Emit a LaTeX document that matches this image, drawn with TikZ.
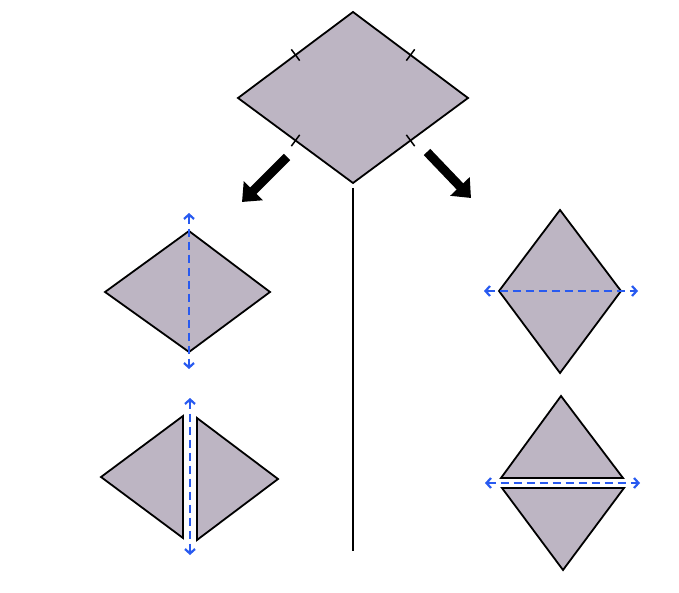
\documentclass[tikz,border=0pt]{standalone}
\usetikzlibrary{arrows.meta,calc}

\definecolor{kite}{RGB}{189,181,195}
\definecolor{foldblue}{RGB}{40,90,240}

\begin{document}
\begin{tikzpicture}
  [
  x=1pt, y=-1pt, line join=miter,
  piece/.style={draw=black, fill=kite, line width=1.8pt},
  tickmark/.style={draw=black, line width=1.5pt},
  fold/.style={draw=foldblue, dashed, dash pattern=on 8pt off 5pt, line width=2.2pt, {Straight Barb[length=4.5pt,width=10pt]}-{Straight Barb[length=4.5pt,width=10pt]}},
  move/.style={line width=9pt, -{Triangle[length=16pt,width=26pt]}},
  split/.style={draw=black, line width=1.8pt}
  ]

\useasboundingbox (0,0) rectangle (679,593);

% big rhombus
\coordinate (t) at (353,12);
\coordinate (l) at (238,98);
\coordinate (r) at (468,98);
\coordinate (b) at (353,183);
\draw[piece] (t) -- (r) -- (b) -- (l) -- cycle;
\foreach \a/\c in {t/l, t/r, b/l, b/r} {
  \draw[tickmark] ($(\a)!0.5!(\c)!7pt!90:(\c)$) -- ($(\a)!0.5!(\c)!7pt!-90:(\c)$);
}

% arrows
\coordinate (la0) at (287,157);
\coordinate (la1) at (242,202);
\coordinate (ra0) at (427,152);
\coordinate (ra1) at (471,198);
\draw[move] (la0) -- (la1);
\draw[move] (ra0) -- (ra1);

% divider
\coordinate (d0) at (353,188);
\coordinate (d1) at (353,551);
\draw[split] (d0) -- (d1);

% left: fold along vertical
\coordinate (lt) at (189,231);
\coordinate (ll) at (105,292);
\coordinate (lr) at (270,292);
\coordinate (lb) at (189,352);
\draw[piece] (lt) -- (lr) -- (lb) -- (ll) -- cycle;
\coordinate (lf0) at (189,213);
\coordinate (lf1) at (189,369);
\draw[fold] (lf0) -- (lf1);

% left: two halves
\coordinate (p1) at (101,477);
\coordinate (p2) at (183,416);
\coordinate (p3) at (183,538);
\draw[piece] (p1) -- (p2) -- (p3) -- cycle;
\coordinate (q1) at (197,418);
\coordinate (q2) at (278,479);
\coordinate (q3) at (197,540);
\draw[piece] (q1) -- (q2) -- (q3) -- cycle;
\coordinate (sf0) at (190,398);
\coordinate (sf1) at (190,555);
\draw[fold] (sf0) -- (sf1);

% right: fold along horizontal
\coordinate (rt) at (560,210);
\coordinate (rl) at (499,291);
\coordinate (rr) at (621,291);
\coordinate (rb) at (560,373);
\draw[piece] (rt) -- (rr) -- (rb) -- (rl) -- cycle;
\coordinate (rf0) at (484,291);
\coordinate (rf1) at (638,291);
\draw[fold] (rf0) -- (rf1);

% right: two halves
\coordinate (u1) at (561,396);
\coordinate (u2) at (623,478);
\coordinate (u3) at (501,478);
\draw[piece] (u1) -- (u2) -- (u3) -- cycle;
\coordinate (v1) at (502,488);
\coordinate (v2) at (624,488);
\coordinate (v3) at (563,570);
\draw[piece] (v1) -- (v2) -- (v3) -- cycle;
\coordinate (hf0) at (485,483);
\coordinate (hf1) at (640,483);
\draw[fold] (hf0) -- (hf1);

\end{tikzpicture}
\end{document}
